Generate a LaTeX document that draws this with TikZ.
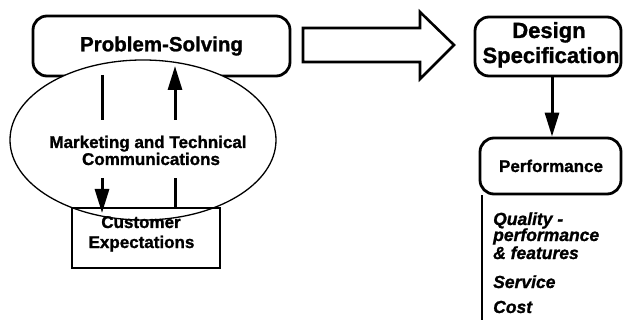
\documentclass[tikz,border=0pt]{standalone}
\usepackage{fontspec}
\setmainfont{Liberation Sans}[BoldFeatures={FakeBold=1.2},BoldItalicFeatures={FakeBold=1.2}]
\usetikzlibrary{shapes.geometric,arrows.meta}
\begin{document}
\begin{tikzpicture}[x=1pt,y=-1pt,
  rbox/.style={draw,line width=2.8pt,rounded corners=14pt,fill=white,inner sep=0pt},
  sqbox/.style={draw,line width=2.6pt,inner sep=0pt},
  oval/.style={draw,ellipse,line width=1.3pt,fill=white,inner sep=0pt},
  bigfont/.style={font=\bfseries\fontsize{20.5}{24}\selectfont},
  specfont/.style={font=\bfseries\fontsize{22}{26}\selectfont,inner sep=0pt,anchor=base},
  midfont/.style={font=\bfseries\fontsize{17}{20}\selectfont,inner sep=0pt,anchor=base},
  itemfont/.style={font=\bfseries\itshape\fontsize{17.5}{20}\selectfont,inner sep=0pt,anchor=base west},
  conn/.style={line width=3pt},
  head/.style={-{Triangle[length=24pt,width=14pt]}},
  thinline/.style={line width=1.4pt}
]
\useasboundingbox (0,0) rectangle (623,320);
\clip (0,0) rectangle (623,320);

% Problem-Solving box and ellipse
\node[rbox,bigfont,minimum width=257pt,minimum height=60pt] (ps) at (161.5,46) {Problem-Solving};
\node[oval,minimum width=266pt,minimum height=160pt] (mk) at (143,140) {};
\node[midfont] (mk1) at (148,148) {Marketing and Technical};
\node[midfont] (mk2) at (151,165) {Communications};

% Customer Expectations box
\node[sqbox,minimum width=148pt,minimum height=60pt] (ce) at (146,238) {};
\node[midfont] (ce1) at (141,228) {Customer};
\node[midfont] (ce2) at (141.5,248) {Expectations};

% vertical connectors
\coordinate (ul) at (175,0);
\coordinate (dltop) at (102,75);
\coordinate (dlmid) at (102,120);
\coordinate (dllow) at (102,178);
\coordinate (dltip) at (102,213);
\coordinate (ultip) at (175,66);
\coordinate (ulmid) at (175,120);
\coordinate (ullow) at (175,178);
\draw[conn] (dltop) -- (dlmid);
\draw[conn,head] (dllow) -- (dltip);
\draw[conn] (ce.north -| ul) -- (ullow);
\draw[conn,head] (ulmid) -- (ultip);

% big block arrow
\draw[line width=2.6pt,line join=miter,fill=white]
  (303,28) -- (420,28) -- (420,12) -- (454,45) -- (420,79) -- (420,62) -- (303,62) -- cycle;

% Design Specification
\node[rbox,minimum width=146pt,minimum height=59pt] (ds) at (548,46.5) {};
\node[specfont] (ds1) at (549,38) {Design};
\node[specfont] (ds2) at (551,63) {Specification};

% Performance
\node[rbox,minimum width=141pt,minimum height=56pt] (pf) at (550.5,166) {};
\node[midfont] (pf1) at (551,172) {Performance};
\coordinate (dax) at (552,0);
\draw[conn,head] (ds.south -| dax) -- (pf.north -| dax);

\coordinate (vb) at (482,322);
\draw[thinline] (pf.south -| vb) -- (vb);

\node[itemfont] (q1) at (493,225) {Quality -};
\node[itemfont] (q2) at (493,241) {performance};
\node[itemfont] (q3) at (493,259) {\& features};
\node[itemfont] (sv) at (493,288) {Service};
\node[itemfont] (co) at (493,313) {Cost};
\end{tikzpicture}
\end{document}
